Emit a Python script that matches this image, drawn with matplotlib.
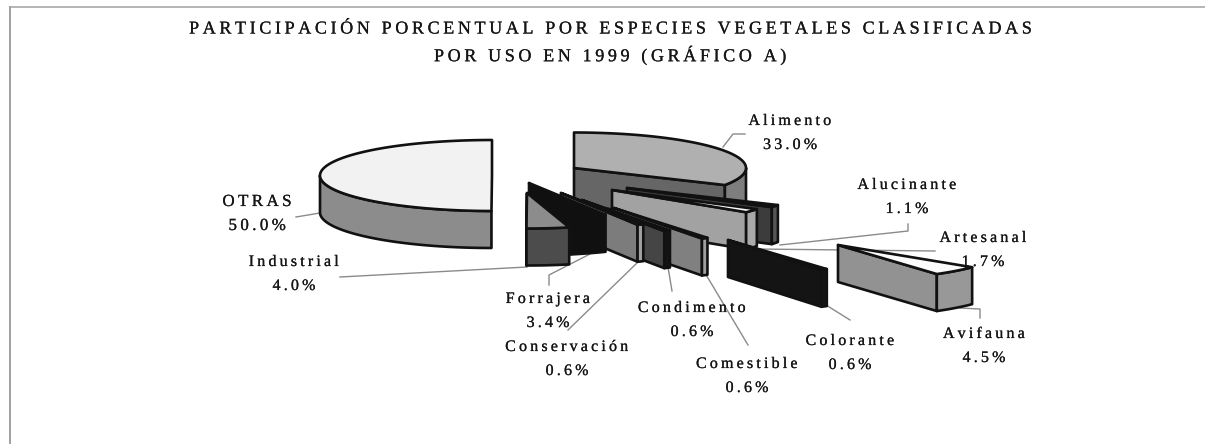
import numpy as np
import matplotlib
matplotlib.use("Agg")
import matplotlib.pyplot as plt
from matplotlib.patches import Polygon
import matplotlib.patheffects as pe

# ---- data ----
categories = ["Alimento", "Alucinante", "Artesanal", "Avifauna", "Colorante", "Comestible",
              "Condimento", "Conservación", "Forrajera", "Industrial", "OTRAS"]
shares = [33.0, 1.1, 1.7, 4.5, 0.6, 0.6, 0.6, 0.6, 3.4, 4.0, 50.0]
title_lines = ["PARTICIPACIÓN PORCENTUAL POR ESPECIES VEGETALES CLASIFICADAS",
               "POR USO EN 1999 (GRÁFICO A)"]

# ---- layout / style ----
W, H = 1205, 444
RX, RY, DEPTH = 172, 35.5, 37
centres = {"Alimento": (574, 168), "Alucinante": (627, 188), "Artesanal": (612, 190),
           "Avifauna": (838, 245), "Colorante": (728, 240), "Comestible": (614, 208),
           "Condimento": (582, 200), "Conservación": (561, 193), "Forrajera": (529, 183),
           "Industrial": (527, 193), "OTRAS": (492, 175.5)}
# top, end-cut wall, rim wall
colours = {"Alimento": ("#b0b0b0", "#666666", "#7e7e7e"),
           "Alucinante": ("#1c1c1c", "#3c3c3c", "#555555"),
           "Artesanal": ("#fbfbfb", "#a2a2a2", "#aaaaaa"),
           "Avifauna": ("#fbfbfb", "#929292", "#989898"),
           "Colorante": ("#141414", "#141414", "#141414"),
           "Comestible": ("#141414", "#808080", "#a0a0a0"),
           "Condimento": ("#141414", "#454545", "#141414"),
           "Conservación": ("#141414", "#7c7c7c", "#a0a0a0"),
           "Forrajera": ("#101010", "#101010", "#101010"),
           "Industrial": ("#8c8c8c", "#4c4c4c", "#4c4c4c"),
           "OTRAS": ("#f2f2f2", "#8c8c8c", "#8c8c8c")}
draw_order = ["OTRAS", "Alimento", "Alucinante", "Artesanal", "Comestible", "Condimento",
              "Conservación", "Forrajera", "Industrial", "Colorante", "Avifauna"]
label_pos = {"Alimento": (790, 121), "Alucinante": (907, 185), "Artesanal": (983, 238),
             "Avifauna": (984, 334), "Colorante": (850, 341), "Comestible": (747, 364),
             "Condimento": (692, 308), "Conservación": (567, 347), "Forrajera": (548, 299),
             "Industrial": (294, 262), "OTRAS": (257, 202)}
label_size = {"OTRAS": 12.2}
leaders = [[(723, 147), (733, 134), (745, 134)],
           [(780, 245), (908, 231), (908, 224)],
           [(757, 249), (935, 251)],
           [(960, 308), (980, 309), (980, 318)],
           [(826, 305), (850, 320)],
           [(705, 273), (748, 345)],
           [(668, 267), (672, 291)],
           [(638, 262), (568, 330)],
           [(590, 254), (549, 275), (549, 285)],
           [(527, 267), (340, 277)],
           [(320, 213), (296, 217)]]
SP = "\u2009"
def spaced(s):
    return SP.join(s)

fig = plt.figure(figsize=(W / 100, H / 100), dpi=100)
ax = fig.add_axes([0, 0, 1, 1])
ax.set_xlim(0, W)
ax.set_ylim(H, 0)
ax.axis("off")

# frame
ax.plot([10, W], [7, 7], color="#a0a0a0", lw=1.1)
ax.plot([10, 10], [7, H], color="#a0a0a0", lw=1.4)

# angles: clockwise from 12 o'clock
edges = 90 - np.cumsum([0] + shares) * 360 / sum(shares)
angles = {c: (edges[i], edges[i + 1]) for i, c in enumerate(categories)}

def pt(c, deg):
    cx, cy = centres[c]
    t = np.radians(deg)
    return cx + RX * np.cos(t), cy - RY * np.sin(t)

for line in leaders:
    xs, ys = zip(*line)
    ax.plot(xs, ys, color="#8a8a8a", lw=1.0, zorder=1)

for z, c in enumerate(draw_order):
    a, b = angles[c]
    top, cut, rim = colours[c]
    cx, cy = centres[c]
    lw = 1.9
    z = 2 + z
    # end-cut radial wall
    ex, ey = pt(c, b)
    if abs(b + 270) > 1e-1 and abs(b + 90) > 1e-1:
        ax.add_patch(Polygon([(cx, cy), (ex, ey), (ex, ey + DEPTH), (cx, cy + DEPTH)],
                             fc=cut, ec="#111111", lw=lw, joinstyle="round", zorder=z))
    # rim wall (only the part facing the viewer)
    lo, hi = max(b, -180), min(a, 0)
    if hi > lo:
        th = np.linspace(hi, lo, 60)
        arc = [pt(c, v) for v in th]
        poly = arc + [(x, y + DEPTH) for x, y in arc[::-1]]
        ax.add_patch(Polygon(poly, fc=rim, ec="#111111", lw=lw, joinstyle="round", zorder=z))
    # top face
    th = np.linspace(a, b, 120)
    ax.add_patch(Polygon([(cx, cy)] + [pt(c, v) for v in th], fc=top, ec="#111111", lw=lw,
                         joinstyle="round", zorder=z))

tkw = dict(family="Liberation Serif", color="#161616", ha="center", va="center", zorder=30,
           path_effects=[pe.withStroke(linewidth=0.15, foreground="#161616")])
for c, v in zip(categories, shares):
    x, y = label_pos[c]
    fs = label_size.get(c, 11.5)
    ax.text(x, y, spaced(c), fontsize=fs, **tkw)
    ax.text(x, y + 24, spaced(f"{v:.1f}%"), fontsize=fs, **tkw)

ax.text(610, 29, spaced(title_lines[0]), fontsize=13, **tkw)
ax.text(610, 55, spaced(title_lines[1]), fontsize=13, **tkw)

fig.savefig("out.png", dpi=100)
